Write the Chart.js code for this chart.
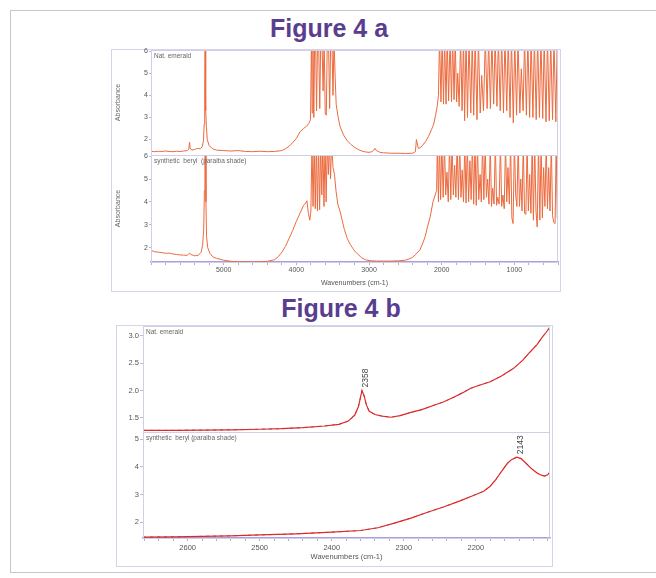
<!DOCTYPE html>
<html>
<head>
<meta charset="utf-8">
<script src="https://cdn.jsdelivr.net/npm/chart.js@4.4.1/dist/chart.umd.min.js"></script>
<style>
  body { margin: 0; background: #fff; width: 656px; height: 578px; overflow: hidden; position: relative; font-family: "Liberation Sans", Arial, sans-serif; }
  .abs { position: absolute; }
  #frame { left: 10px; top: 10px; width: 660px; height: 561px; border: 1px solid #c6c6c6; }
  .box { border: 1px solid #d4d4ea; }
  .fig { color: #5a3d8f; font-weight: bold; font-size: 25px; line-height: 30px; text-align: center; width: 300px; }
  canvas { position: absolute; }
</style>
</head>
<body>
<div id="frame" class="abs"></div>
<div class="abs box" style="left:111px;top:49px;width:448px;height:241px"></div>
<div class="abs box" style="left:116px;top:325px;width:435px;height:240px"></div>
<div class="abs fig" style="left:179px;top:13px">Figure 4 a</div>
<div class="abs fig" style="left:191px;top:293px">Figure 4 b</div>
<canvas id="a1" width="461" height="111" style="left:100px;top:44px"></canvas>
<canvas id="a2" width="461" height="141" style="left:100px;top:150px"></canvas>
<canvas id="b1" width="443" height="110" style="left:110px;top:322px"></canvas>
<canvas id="b2" width="443" height="137" style="left:110px;top:429px"></canvas>
<script>
  // Figure 4a - full range spectra [wavenumber, absorbance]
  const natEmeraldFull = [
    [6000,1.47],[5950,1.45],[5900,1.47],[5850,1.46],[5800,1.48],[5750,1.46],[5700,1.45],[5650,1.47],[5600,1.46],[5550,1.48],
    [5500,1.5],[5480,1.56],[5470,1.88],[5462,1.62],[5440,1.52],[5400,1.55],[5360,1.6],[5320,1.58],[5295,1.68],[5278,1.95],
    [5268,2.7],[5261,4.2],[5256,6.6],[5250,6.6],[5245,3.3],[5238,2.6],[5226,2.0],[5200,1.72],[5150,1.58],[5100,1.52],
    [5000,1.5],[4900,1.48],[4800,1.5],[4700,1.46],[4600,1.45],[4500,1.47],[4400,1.45],[4300,1.46],[4200,1.5],[4150,1.58],
    [4100,1.7],[4050,1.86],[4000,2.05],[3950,2.35],[3900,2.5],[3860,2.6],[3830,2.72],[3805,2.9],
    [3792,6.6],[3782,3.2],[3772,6.6],[3760,3.0],[3748,6.6],[3735,6.6],[3722,3.3],[3708,6.6],[3694,6.6],[3678,3.4],
    [3664,6.6],[3648,6.6],[3632,4.2],[3618,6.6],[3603,3.2],[3588,3.1],[3574,6.6],[3558,6.6],[3542,3.4],[3527,6.6],
    [3512,6.6],[3496,4.0],[3482,6.6],[3466,4.8],[3452,3.6],[3430,3.1],[3400,2.6],[3350,2.2],[3300,1.95],[3250,1.78],
    [3200,1.65],[3150,1.55],[3100,1.48],[3050,1.44],[3000,1.42],[2960,1.45],[2935,1.52],[2918,1.6],[2900,1.5],[2880,1.47],
    [2850,1.42],[2800,1.4],[2700,1.38],[2600,1.38],[2500,1.37],[2400,1.38],[2362,1.45],[2348,2.0],[2338,1.85],[2322,1.6],
    [2300,1.62],[2260,1.75],[2220,1.92],[2180,2.15],[2140,2.45],[2110,2.7],[2085,3.1],[2062,3.5],[2045,4.0],
    [2030,6.6],[2010,3.7],[1995,6.6],[1975,3.6],[1960,6.6],[1940,3.6],[1925,6.6],[1905,3.75],[1885,6.6],[1865,3.7],
    [1850,6.6],[1830,3.8],[1815,6.6],[1795,3.7],[1780,5.0],[1760,3.5],[1740,6.6],[1720,3.3],[1700,6.6],[1685,2.85],
    [1665,6.6],[1645,3.0],[1625,6.6],[1600,3.2],[1580,6.6],[1560,3.1],[1540,6.6],[1515,2.9],[1495,6.6],[1470,3.2],
    [1450,4.9],[1425,3.3],[1400,6.6],[1375,3.4],[1355,6.6],[1330,3.4],[1310,6.6],[1285,3.6],[1265,6.6],[1240,3.5],
    [1220,6.6],[1195,3.3],[1175,6.6],[1150,3.2],[1130,6.6],[1105,3.3],[1085,6.6],[1060,3.0],[1040,6.6],[1015,2.75],
    [995,6.6],[970,3.1],[950,6.6],[925,3.2],[905,5.2],[880,3.3],[860,6.6],[835,3.1],[815,6.6],[790,3.0],
    [770,6.6],[745,3.0],[725,6.6],[700,2.9],[680,6.6],[655,3.0],[635,6.6],[610,2.95],[590,6.6],[565,2.8],
    [545,6.6],[520,2.85],[500,6.6],[475,2.9],[455,6.6],[430,2.8],[410,6.6],[400,2.9]
  ];
  const synBerylFull = [
    [6000,1.88],[5950,1.82],[5900,1.8],[5850,1.78],[5800,1.75],[5750,1.76],[5700,1.72],[5650,1.7],[5600,1.68],[5550,1.67],
    [5500,1.66],[5470,1.76],[5450,1.7],[5400,1.64],[5350,1.66],[5310,1.8],[5290,2.1],[5275,2.8],[5265,4.5],[5258,6.6],
    [5250,6.6],[5244,4.0],[5236,2.5],[5220,2.0],[5190,1.75],[5150,1.6],[5100,1.53],[5050,1.49],[5000,1.45],[4900,1.4],
    [4800,1.38],[4700,1.38],[4600,1.37],[4500,1.38],[4400,1.4],[4300,1.47],[4250,1.6],[4200,1.8],[4150,2.05],[4100,2.4],
    [4050,2.75],[4000,3.15],[3950,3.5],[3900,3.85],[3870,3.95],[3855,4.05],[3835,3.5],[3815,3.2],[3800,3.6],
    [3785,6.6],[3770,3.8],[3755,6.6],[3740,3.7],[3725,6.6],[3710,3.6],[3695,6.6],[3680,3.65],[3665,6.6],[3650,4.3],
    [3635,6.6],[3620,3.8],[3605,6.6],[3590,4.0],[3575,6.6],[3560,5.2],[3545,6.6],[3530,5.0],[3515,6.6],[3495,5.5],
    [3475,5.2],[3455,4.5],[3430,3.9],[3400,3.6],[3370,3.2],[3340,2.8],[3300,2.4],[3260,2.15],[3220,1.95],[3190,1.82],
    [3150,1.7],[3100,1.55],[3050,1.47],[3000,1.43],[2950,1.42],[2900,1.41],[2800,1.41],[2700,1.41],[2600,1.42],[2500,1.45],
    [2450,1.5],[2400,1.58],[2350,1.72],[2300,1.9],[2260,2.2],[2230,2.46],[2200,2.85],[2160,3.33],[2120,4.0],[2090,4.3],
    [2070,4.5],
    [2060,6.6],[2045,4.0],[2030,6.6],[2015,4.1],[1998,6.6],[1980,4.2],[1962,6.6],[1945,4.3],[1928,5.3],[1910,4.0],
    [1892,6.6],[1875,4.1],[1858,6.6],[1840,4.3],[1822,5.6],[1805,4.2],[1788,6.6],[1770,4.1],[1752,6.6],[1735,4.2],
    [1718,5.4],[1700,4.0],[1682,6.6],[1665,3.95],[1648,6.6],[1630,4.0],[1612,5.8],[1595,4.1],[1578,6.6],[1560,3.9],
    [1542,6.6],[1525,3.85],[1508,6.6],[1490,4.1],[1472,5.2],[1455,4.0],[1438,6.6],[1420,4.1],[1402,6.6],[1385,4.2],
    [1368,5.0],[1350,3.9],[1332,6.6],[1315,3.8],[1298,4.6],[1280,3.9],[1262,6.6],[1245,3.85],[1228,4.2],[1210,3.9],
    [1192,6.6],[1175,3.8],[1158,4.3],[1140,3.7],[1122,6.6],[1105,4.0],[1088,5.5],[1070,3.9],[1052,6.6],[1035,3.3],
    [1018,3.05],[1000,6.6],[982,4.3],[965,3.8],[948,6.6],[930,3.8],[912,5.0],[895,3.6],[878,6.6],[860,3.5],
    [842,3.45],[825,6.6],[808,3.6],[790,5.2],[772,3.5],[755,6.6],[738,3.2],[720,6.6],[703,3.6],[686,2.9],
    [668,6.6],[650,3.2],[632,6.6],[615,3.3],[598,5.5],[580,3.8],[562,6.6],[545,3.7],[528,5.5],[510,3.6],
    [492,6.6],[475,3.4],[458,3.1],[440,3.05],[425,6.6],[410,3.3],[400,3.5]
  ];

  // Figure 4b - zoom 2660-2100 cm-1
  const natEmeraldZoom = [
    [2662,1.27],[2620,1.27],[2580,1.275],[2540,1.28],[2500,1.29],[2470,1.3],[2440,1.32],[2410,1.35],[2390,1.38],[2377,1.44],
    [2368,1.55],[2363,1.7],[2360,1.88],[2358,2.0],[2355,1.9],[2352,1.74],[2348,1.62],[2340,1.56],[2330,1.53],[2318,1.51],
    [2305,1.54],[2290,1.6],[2275,1.65],[2258,1.73],[2245,1.79],[2230,1.88],[2218,1.96],[2207,2.04],[2194,2.1],[2180,2.16],
    [2165,2.26],[2148,2.4],[2135,2.55],[2125,2.7],[2115,2.84],[2108,2.97],[2102,3.07],[2097,3.16]
  ];
  const synBerylZoom = [
    [2662,1.46],[2620,1.47],[2580,1.49],[2540,1.51],[2500,1.54],[2450,1.58],[2400,1.64],[2360,1.7],[2336,1.8],[2313,1.97],
    [2290,2.15],[2267,2.36],[2244,2.56],[2221,2.78],[2205,2.95],[2189,3.12],[2180,3.3],[2172,3.55],[2164,3.85],[2156,4.13],
    [2150,4.27],[2143,4.35],[2137,4.3],[2130,4.12],[2122,3.92],[2115,3.78],[2109,3.7],[2104,3.67],[2100,3.72],[2097,3.82]
  ];

  const xTicksFull = [5000, 4000, 3000, 2000, 1000];
  const xTicksZoom = [2600, 2500, 2400, 2300, 2200];
  const yTicksFull = [2, 3, 4, 5, 6];
  const yTicksNatZoom = [1.5, 2.0, 2.5, 3.0];
  const yTicksSynZoom = [2, 3, 4, 5];
  const peaksNatZoom = [[2358, 2.0]];
  const peaksSynZoom = [[2143, 4.35]];

  const FONT = '"Liberation Sans", Arial, sans-serif';
  const LAV = '#cfcfe6';

  // border around the plot area
  const framePlugin = {
    id: 'frame',
    afterDraw(chart) {
      const {ctx, chartArea: a} = chart;
      ctx.save();
      ctx.strokeStyle = LAV;
      ctx.lineWidth = 1;
      ctx.strokeRect(a.left + 0.5, a.top + 0.5, a.right - a.left - 1, a.bottom - a.top);
      ctx.restore();
    }
  };

  // sample name in the top-left corner
  const panelLabel = {
    id: 'panelLabel',
    afterDraw(chart, args, opts) {
      const {ctx, chartArea: a} = chart;
      ctx.save();
      ctx.font = opts.size + 'px ' + FONT;
      ctx.fillStyle = '#666';
      ctx.textBaseline = 'top';
      ctx.fillText(opts.text, a.left + 3, a.top + 3);
      ctx.restore();
    }
  };

  // vertical wavenumber labels above peaks
  const peakLabel = {
    id: 'peakLabel',
    afterDatasetsDraw(chart, args, opts) {
      if (!opts.peaks) return;
      const {ctx, scales} = chart;
      opts.peaks.forEach(p => {
        const x = scales.x.getPixelForValue(p[0]);
        const y = scales.y.getPixelForValue(p[1]);
        ctx.save();
        ctx.translate(x + 4, y - 3);
        ctx.rotate(-Math.PI / 2);
        ctx.font = '8.5px ' + FONT;
        ctx.fillStyle = '#444';
        ctx.textBaseline = 'middle';
        ctx.fillText(String(p[0]), 0, 0);
        ctx.restore();
      });
    }
  };

  function toXY(list) {
    return list.map(p => ({x: p[0], y: p[1]}));
  }

  function makeChart(id, o) {
    const datasets = [{
      data: toXY(o.data),
      borderColor: o.color,
      borderWidth: o.width,
      pointRadius: 0,
      tension: 0
    }];
    if (o.dashed) {
      datasets.push({
        data: toXY(o.data),
        borderColor: 'rgba(60,70,55,0.8)',
        borderWidth: 0.9,
        borderDash: [3, 4],
        pointRadius: 0,
        tension: 0
      });
    }
    return new Chart(document.getElementById(id), {
      type: 'line',
      data: {datasets},
      options: {
        responsive: false,
        animation: false,
        layout: {padding: {top: o.padTop, right: 3, bottom: 0, left: 0}},
        plugins: {
          legend: {display: false},
          tooltip: {enabled: false},
          panelLabel: {text: o.label, size: o.labelSize},
          peakLabel: {peaks: o.peaks}
        },
        scales: {
          x: {
            type: 'linear',
            reverse: true,
            min: o.xMin,
            max: o.xMax,
            display: o.showX,
            afterBuildTicks: s => {
              const t = [];
              for (let v = o.xMax - (o.xMax % o.xStep); v >= o.xMin; v -= o.xStep) t.push({value: v});
              s.ticks = t;
            },
            afterFit: s => { s.height = o.showX ? o.xAxisH : 0; s.paddingLeft = 0; s.paddingRight = 0; },
            grid: {drawOnChartArea: false, tickLength: 3, color: '#b9a7dc'},
            border: {color: '#b09ae0', width: 1.5},
            ticks: {
              autoSkip: false, maxRotation: 0, padding: o.xTickPad, color: '#555',
              font: {family: FONT, size: o.tickSize},
              callback: v => o.xLabels.includes(v) ? String(v) : ''
            },
            title: {display: true, text: 'Wavenumbers (cm-1)', color: '#555',
              font: {family: FONT, size: o.tickSize}, padding: {top: 0, bottom: o.xTitlePad}}
          },
          y: {
            min: o.yMin,
            max: o.yMax,
            afterBuildTicks: s => { s.ticks = o.yTicks.map(v => ({value: v})); },
            afterFit: s => { s.width = o.yAxisW; s.paddingTop = 0; s.paddingBottom = 0; },
            grid: {drawOnChartArea: false, tickLength: o.yTickLen, color: '#b9b9d8'},
            border: {color: LAV},
            ticks: {
              padding: 1, color: '#555',
              font: {family: FONT, size: o.tickSize},
              callback: v => o.yFmt(v)
            },
            title: {display: !!o.yTitle, text: o.yTitle, color: '#666',
              font: {family: FONT, size: 7}, padding: {top: 14, bottom: 0}}
          }
        }
      },
      plugins: [framePlugin, panelLabel, peakLabel]
    });
  }

  const fullCommon = {
    xMin: 400, xMax: 6000, xStep: 200, xLabels: xTicksFull,
    yMin: 1.3, yMax: 6.05, yTicks: yTicksFull, yFmt: v => String(v),
    yAxisW: 51, yTickLen: 2, yTitle: 'Absorbance', tickSize: 7,
    xAxisH: 29, xTickPad: 1, xTitlePad: 4,
    color: '#ec6a3e', width: 1, dashed: false, labelSize: 6.5
  };
  const zoomCommon = {
    xMin: 2097, xMax: 2662, xStep: 20, xLabels: xTicksZoom,
    yAxisW: 33, yTickLen: 3, yTitle: '', tickSize: 7.5,
    xAxisH: 28, xTickPad: 2, xTitlePad: 4.5,
    color: '#e0282a', width: 1.2, dashed: true, labelSize: 6.5
  };

  makeChart('a1', Object.assign({}, fullCommon, {data: natEmeraldFull, showX: false, padTop: 6,
    label: 'Nat. emerald'}));
  makeChart('a2', Object.assign({}, fullCommon, {data: synBerylFull, showX: true, padTop: 5,
    yMin: 1.37, yMax: 6.05, label: 'synthetic  beryl  (paraiba shade)'}));
  makeChart('b1', Object.assign({}, zoomCommon, {data: natEmeraldZoom, showX: false, padTop: 4,
    yMin: 1.24, yMax: 3.18, yTicks: yTicksNatZoom, yFmt: v => v.toFixed(1),
    label: 'Nat. emerald', peaks: peaksNatZoom}));
  makeChart('b2', Object.assign({}, zoomCommon, {data: synBerylZoom, showX: true, padTop: 3,
    yMin: 1.43, yMax: 5.26, yTicks: yTicksSynZoom, yFmt: v => String(v),
    label: 'synthetic  beryl (paraiba shade)', peaks: peaksSynZoom}));
</script>
</body>
</html>
